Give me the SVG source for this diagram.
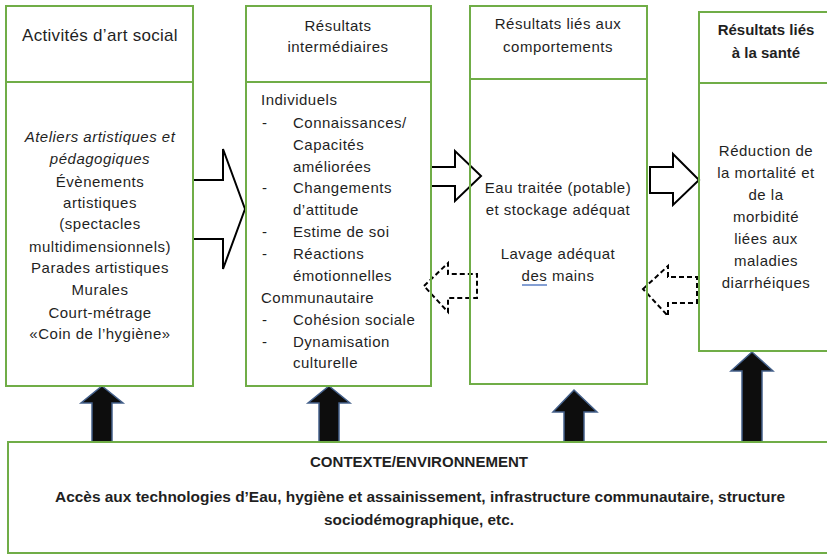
<svg xmlns="http://www.w3.org/2000/svg" width="827" height="555" viewBox="0 0 827 555">
  <style>
    .box { fill: none; stroke: #70AD47; stroke-width: 2; }
    .t { font-family: "Liberation Sans", Arial, sans-serif; font-size: 15px; letter-spacing: 0.5px; fill: #1f1f1f; }
    .c { text-anchor: middle; }
    .b { font-weight: bold; letter-spacing: 0; }
    .i { font-style: italic; }
    .big { stroke: #000; stroke-width: 2; fill: #fff; stroke-linejoin: miter; }
    .dash { stroke: #000; stroke-width: 2; fill: #fff; stroke-dasharray: 5 3; }
    .up { fill: #0d0d0d; stroke: #44608a; stroke-width: 1.5; stroke-linejoin: miter; }
  </style>
  <rect width="827" height="555" fill="#fff"/>

  <!-- connectors -->
  <g id="connectors">
    <polygon class="big" points="193,180 223,180 223,149 245,209 223,269 223,239 193,239"/>
    <polygon class="big" points="431,167 455,167 455,151 481,176 455,201 455,186 431,186"/>
    <polygon class="big" points="650,167 673,167 673,154 699,180 673,205 673,193 650,193"/>
    <polygon class="dash" points="424,286 448,263 448,274 477,274 477,298 448,298 448,312"/>
    <polygon class="dash" points="643,289 668,266 668,277 697,277 697,303 668,303 668,316"/>
    <polygon class="up" points="102,386 123,403 112,403 112,442 92,442 92,403 81,403"/>
    <polygon class="up" points="329,386 350,403 339,403 339,442 319,442 319,403 308,403"/>
    <polygon class="up" points="574,390 597,412 584,412 584,442 564,442 564,412 553,412"/>
    <polygon class="up" points="752,352 773,371 762,371 762,442 742,442 742,371 731,371"/>
  </g>

  <!-- activities -->
  <g id="activites">
    <rect class="box" x="6" y="6" width="187" height="380"/>
    <line class="box" x1="6" y1="82" x2="193" y2="82"/>
    <text class="t c" x="100" y="41" style="font-size:17px;letter-spacing:0.3px">Activités d’art social</text>
    <text class="t c i" x="100" y="142">Ateliers artistiques et</text>
    <text class="t c i" x="100" y="164">pédagogiques</text>
    <text class="t c" x="100" y="187">Évènements</text>
    <text class="t c" x="100" y="208">artistiques</text>
    <text class="t c" x="100" y="229">(spectacles</text>
    <text class="t c" x="100" y="252">multidimensionnels)</text>
    <text class="t c" x="100" y="273">Parades artistiques</text>
    <text class="t c" x="100" y="295">Murales</text>
    <text class="t c" x="100" y="318">Court-métrage</text>
    <text class="t c" x="100" y="339">«Coin de l’hygiène»</text>
  </g>

  <!-- intermediate results -->
  <g id="intermediaires">
    <rect class="box" x="246" y="6" width="185" height="380"/>
    <line class="box" x1="246" y1="82" x2="431" y2="82"/>
    <text class="t c" x="338" y="31">Résultats</text>
    <text class="t c" x="338" y="52">intermédiaires</text>
    <text class="t" x="261" y="105">Individuels</text>
    <text class="t" x="262" y="128">-</text>
    <text class="t" x="293" y="128">Connaissances/</text>
    <text class="t" x="293" y="150">Capacités</text>
    <text class="t" x="293" y="172">améliorées</text>
    <text class="t" x="262" y="193">-</text>
    <text class="t" x="293" y="193">Changements</text>
    <text class="t" x="293" y="215">d’attitude</text>
    <text class="t" x="262" y="237">-</text>
    <text class="t" x="293" y="237">Estime de soi</text>
    <text class="t" x="262" y="259">-</text>
    <text class="t" x="293" y="259">Réactions</text>
    <text class="t" x="293" y="281">émotionnelles</text>
    <text class="t" x="261" y="303">Communautaire</text>
    <text class="t" x="262" y="325">-</text>
    <text class="t" x="293" y="325">Cohésion sociale</text>
    <text class="t" x="262" y="347">-</text>
    <text class="t" x="293" y="347">Dynamisation</text>
    <text class="t" x="293" y="368">culturelle</text>
  </g>

  <!-- behaviour results -->
  <g id="comportements">
    <rect class="box" x="470" y="6" width="177" height="378"/>
    <line class="box" x1="470" y1="79" x2="647" y2="79"/>
    <text class="t c" x="558" y="29">Résultats liés aux</text>
    <text class="t c" x="558" y="52">comportements</text>
    <text class="t c" x="558" y="193">Eau traitée (potable)</text>
    <text class="t c" x="558" y="215">et stockage adéquat</text>
    <text class="t c" x="558" y="259">Lavage adéquat</text>
    <text class="t c" x="558" y="281">des mains</text>
    <line x1="522" y1="285" x2="547" y2="285" stroke="#5b7fc4" stroke-width="1.5"/>
  </g>

  <!-- health results -->
  <g id="sante">
    <rect class="box" x="699" y="12" width="140" height="339"/>
    <line class="box" x1="699" y1="83" x2="839" y2="83"/>
    <text class="t c b" x="766" y="35">Résultats liés</text>
    <text class="t c b" x="766" y="58">à la santé</text>
    <text class="t c" x="766" y="156">Réduction de</text>
    <text class="t c" x="766" y="178">la mortalité et</text>
    <text class="t c" x="766" y="200">de la</text>
    <text class="t c" x="766" y="222">morbidité</text>
    <text class="t c" x="766" y="244">liées aux</text>
    <text class="t c" x="766" y="266">maladies</text>
    <text class="t c" x="766" y="288">diarrhéiques</text>
  </g>

  <!-- context -->
  <g id="contexte">
    <rect class="box" x="8" y="442" width="830" height="111"/>
    <text class="t c b" x="419" y="467" style="font-size:14.5px" textLength="218" lengthAdjust="spacingAndGlyphs">CONTEXTE/ENVIRONNEMENT</text>
    <text class="t c b" x="420" y="502" style="font-size:14.5px" textLength="730" lengthAdjust="spacingAndGlyphs">Accès aux technologies d’Eau, hygiène et assainissement, infrastructure communautaire, structure</text>
    <text class="t c b" x="419" y="525" style="font-size:14.5px" textLength="190" lengthAdjust="spacingAndGlyphs">sociodémographique, etc.</text>
  </g>
</svg>
